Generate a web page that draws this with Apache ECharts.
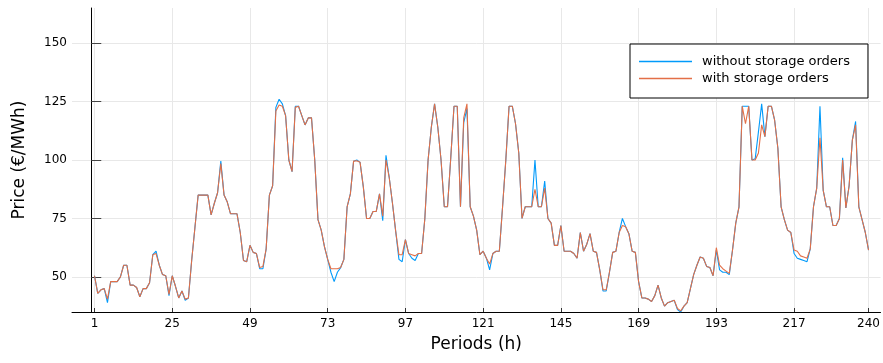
<!DOCTYPE html>
<html>
<head>
<meta charset="utf-8">
<script src="https://cdn.jsdelivr.net/npm/echarts@6/dist/echarts.min.js"></script>
<style>
html, body { margin: 0; padding: 0; background: #fff; }
#main { width: 883px; height: 363px; }
</style>
</head>
<body>
<div id="main"></div>
<script>
// hourly prices, hours 1..240
var withoutStorage = [
  50.5, 43, 44.5, 45, 39, 48, 48, 48, 50, 55, 55, 46.5, 46.5, 45.5, 41.5, 45, 45, 47.5, 59.5, 61,
  55, 51, 50.5, 42, 50.5, 46, 41, 44, 40, 41, 57, 71, 85, 85, 85, 85, 76.5, 81.5, 86, 99.5,
  85, 82, 77, 77, 77, 69, 57, 56.5, 63.5, 60.5, 60, 53.5, 53.5, 62, 85, 89, 122.5, 126, 124, 119,
  100, 95, 123, 123, 119, 115, 118, 118, 100, 74.5, 70, 63, 57.5, 52, 48, 52, 54, 57.5, 80, 85.5,
  99.5, 100, 99, 88.5, 75, 75, 78, 78, 85.5, 74, 102, 92.5, 81.5, 69.5, 57.5, 56.5, 66, 60, 58, 57,
  60, 60, 75, 100, 114, 124, 114, 100, 80, 80, 101, 123, 123, 80, 116, 122, 80, 76, 70, 59.5,
  61, 58, 53, 60, 61, 61, 80, 100, 123, 123, 115.5, 103, 75, 80, 80, 80, 100, 80, 80, 91,
  75, 73, 63.5, 63.5, 72, 61, 61, 61, 60, 58, 69, 61, 64, 68.5, 61, 60.5, 53, 44, 44, 52,
  60.5, 61, 69, 75, 71.5, 68.5, 61, 60.5, 48, 41, 41, 40.5, 39.5, 42, 46.5, 41, 37.5, 39, 39.5, 40,
  36, 35, 37.5, 39, 45, 51, 55, 58.5, 58, 54.5, 54, 50.5, 61.5, 53, 52, 52, 51, 61.5, 73, 80,
  123, 123, 123, 100, 100.5, 112, 124, 110, 123, 123, 117, 105, 80, 74.5, 70, 69, 60, 58, 57.5, 57,
  56.5, 62, 80, 88, 123, 87, 80, 80, 72, 72, 75, 101, 79.5, 89, 108.5, 116.5, 80, 74.5, 69, 61.5
];
var withStorage = [
  50.5, 43, 44.5, 45, 40.5, 48, 48, 48, 50, 55, 55, 46.5, 46.5, 45.5, 41.5, 45, 45, 47.5, 59.5, 60,
  55, 51, 50.5, 42.5, 50.5, 46, 41, 44, 40.5, 41, 57, 71, 85, 85, 85, 85, 76.5, 81.5, 86, 98.5,
  85, 82, 77, 77, 77, 69, 57, 56.5, 63.5, 60.5, 60, 54, 54.5, 62, 85, 89, 121, 123.5, 123, 119,
  100, 95, 122.5, 123, 119, 115, 118, 118, 100, 74.5, 70, 63, 57.5, 53.5, 53.5, 53.5, 54, 57.5, 80, 85.5,
  99.5, 99.7, 99, 88.5, 75, 75, 78, 78, 85.5, 76, 100, 92.5, 81.5, 69.5, 59.5, 59.5, 66, 60, 59.5, 59,
  60, 60, 75, 100, 114, 124, 114, 100, 80, 80, 101, 123, 123, 80, 118, 124, 80, 76, 70, 59.5,
  61, 58, 55.5, 60, 61, 61, 80, 100, 123, 123, 115.5, 103, 75, 80, 80, 80, 87.5, 80, 80, 88,
  75, 73, 63.5, 63.5, 72, 61, 61, 61, 60, 58, 69, 61, 64, 68.5, 61, 60.5, 53, 44.5, 44.5, 52,
  60.5, 61, 69, 72, 71.5, 68.5, 61, 60.5, 48, 41, 41, 40.5, 39.5, 42, 46.5, 41, 37.5, 39, 39.5, 40,
  36.5, 35.5, 37.5, 39, 45, 51, 55, 58.5, 58, 54.5, 54, 50.5, 62.5, 55, 53.5, 52.5, 51.5, 61.5, 73, 80,
  123, 115.5, 123, 100, 100, 103, 115, 110, 123, 123, 117, 105, 80, 74.5, 70, 69, 61.5, 61, 59, 58.5,
  58, 62, 80, 88, 109.5, 87, 80, 80, 72, 72, 75, 100, 79.5, 89, 108.5, 115, 80, 74.5, 69, 61.5
];
var xTicks = [1, 25, 49, 73, 97, 121, 145, 169, 193, 217, 240];
var yTicks = [50, 75, 100, 125, 150];

var hours = [];
for (var i = 0; i < withStorage.length; i++) hours.push(i + 1);

function pairs(values) {
  return values.map(function (v, i) { return [hours[i], v]; });
}

var font = 'DejaVu Sans';
var gridColor = '#e8e8e8';
var blue = '#009AFA';
var orange = '#E36F47';
var lineIcon = 'path://M0,0H53V1.5H0Z';

var chartDom = document.getElementById('main');
var myChart = echarts.init(chartDom);
var option;

option = {
  animation: false,
  backgroundColor: '#fff',
  grid: {
    left: 72,
    right: 0,
    top: 8,
    bottom: 51,
    containLabel: false
  },
  legend: {
    orient: 'vertical',
    left: 630,
    top: 44,
    padding: [11, 18, 13, 9],
    itemWidth: 53,
    itemHeight: 14,
    itemGap: 4,
    borderColor: '#000',
    borderWidth: 1,
    borderRadius: 0,
    backgroundColor: '#fff',
    textStyle: { fontFamily: font, fontSize: 13, color: '#000', padding: [0, 0, 0, 5] },
    data: [
      { name: 'without storage orders', icon: lineIcon, itemStyle: { color: blue, borderWidth: 0 } },
      { name: 'with storage orders', icon: lineIcon, itemStyle: { color: orange, borderWidth: 0 } }
    ]
  },
  xAxis: {
    type: 'value',
    min: -5.95,
    max: 243.7,
    name: 'Periods (h)',
    nameLocation: 'middle',
    nameGap: 24,
    nameTextStyle: { fontFamily: font, fontSize: 17, color: '#000' },
    axisLine: { show: true, onZero: false, lineStyle: { color: '#000', width: 1 } },
    axisTick: { show: true, inside: true, length: 4, customValues: xTicks, lineStyle: { color: '#333' } },
    axisLabel: { customValues: xTicks, fontFamily: font, fontSize: 12, color: '#000', margin: 6 },
    splitLine: { show: true, lineStyle: { color: gridColor, width: 1 } }
  },
  yAxis: {
    type: 'value',
    min: 35,
    max: 165,
    name: 'Price (€/MWh)',
    nameLocation: 'middle',
    nameGap: 44,
    nameTextStyle: { fontFamily: font, fontSize: 17, color: '#000' },
    axisLine: { show: true, lineStyle: { color: '#000', width: 1 } },
    axisTick: { show: true, inside: true, length: 10, customValues: yTicks, lineStyle: { color: '#444' } },
    axisLabel: { customValues: yTicks, fontFamily: font, fontSize: 12, color: '#000', margin: 5 },
    splitLine: { show: true, lineStyle: { color: gridColor, width: 1 } }
  },
  series: [
    {
      name: 'without storage orders',
      type: 'line',
      symbol: 'none',
      data: pairs(withoutStorage),
      lineStyle: { color: blue, width: 1.1 },
      itemStyle: { color: blue }
    },
    {
      name: 'with storage orders',
      type: 'line',
      symbol: 'none',
      data: pairs(withStorage),
      lineStyle: { color: orange, width: 1.1 },
      itemStyle: { color: orange }
    }
  ]
};

option && myChart.setOption(option);
</script>
</body>
</html>
